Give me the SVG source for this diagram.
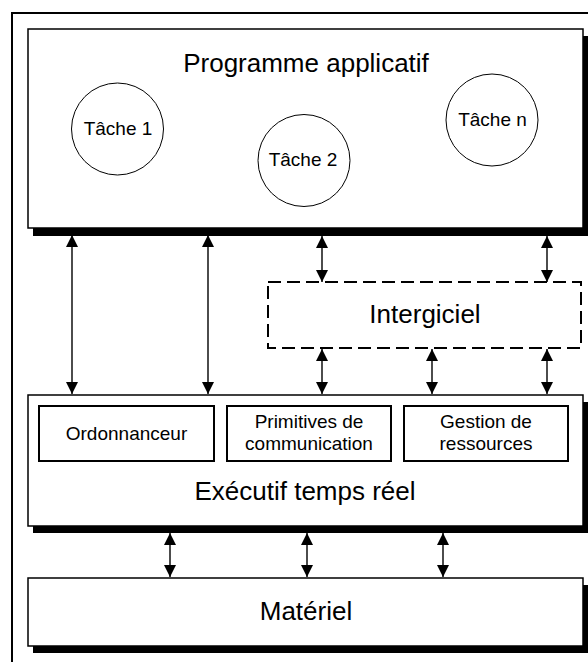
<svg xmlns="http://www.w3.org/2000/svg" width="588" height="662" viewBox="0 0 588 662">
<defs>
<marker id="ah" viewBox="0 0 12 12" refX="12" refY="6" markerWidth="12" markerHeight="12" markerUnits="userSpaceOnUse" orient="auto-start-reverse">
<path d="M0,0 L12,6 L0,12 z" fill="#000"/>
</marker>
<style>
.frame{fill:none;stroke:#000;stroke-width:2}
.box{fill:#fff;stroke:#000;stroke-width:1.5}
.shadow{fill:#000}
.inner{fill:#fff;stroke:#000;stroke-width:2}
.dash{fill:none;stroke:#000;stroke-width:2;stroke-dasharray:13 6}
.task{fill:#fff;stroke:#000;stroke-width:1}
.big{font-family:"Liberation Sans",Arial,sans-serif;font-size:26px;text-anchor:middle;fill:#000}
.small{font-family:"Liberation Sans",Arial,sans-serif;font-size:19px;text-anchor:middle;fill:#000}
.conn{stroke:#000;stroke-width:1.4;fill:none;marker-start:url(#ah);marker-end:url(#ah)}
</style>
</defs>
<rect width="588" height="662" fill="#fff"/>
<rect class="frame" x="12" y="13" width="600" height="700"/>

<g id="programme">
<rect class="shadow" x="33" y="36" width="560" height="200"/>
<rect class="box" x="28" y="29" width="555" height="199"/>
<text class="big" x="306" y="72">Programme applicatif</text>
</g>
<g id="tache1">
<circle class="task" cx="117.5" cy="129" r="46"/>
<text class="small" x="118" y="135">Tâche 1</text>
</g>
<g id="tache2">
<circle class="task" cx="304" cy="160.5" r="46"/>
<text class="small" x="303" y="166">Tâche 2</text>
</g>
<g id="tachen">
<circle class="task" cx="492" cy="120" r="46"/>
<text class="small" x="492.5" y="126">Tâche n</text>
</g>

<g id="intergiciel">
<rect class="dash" x="268" y="282" width="313" height="66"/>
<text class="big" x="425" y="323">Intergiciel</text>
</g>

<g id="executif">
<rect class="shadow" x="33" y="402" width="560" height="131"/>
<rect class="box" x="28" y="395" width="555" height="131"/>
<text class="big" x="305" y="500">Exécutif temps réel</text>
</g>
<g id="ordonnanceur">
<rect class="inner" x="39" y="406" width="175" height="55"/>
<text class="small" x="126.5" y="440">Ordonnanceur</text>
</g>
<g id="primitives">
<rect class="inner" x="227" y="406" width="164" height="55"/>
<text class="small" x="309" y="428">Primitives de</text>
<text class="small" x="309" y="450">communication</text>
</g>
<g id="gestion">
<rect class="inner" x="404" y="406" width="164" height="55"/>
<text class="small" x="486" y="428">Gestion de</text>
<text class="small" x="486" y="450">ressources</text>
</g>

<g id="materiel">
<rect class="shadow" x="33" y="585" width="560" height="68"/>
<rect class="box" x="28" y="578" width="555" height="68"/>
<text class="big" x="306" y="620">Matériel</text>
</g>

<g id="connectors">
<line class="conn" x1="72" y1="235" x2="72" y2="394"/>
<line class="conn" x1="208" y1="235" x2="208" y2="394"/>
<line class="conn" x1="322" y1="236" x2="322" y2="282"/>
<line class="conn" x1="547" y1="236" x2="547" y2="282"/>
<line class="conn" x1="322" y1="349" x2="322" y2="394"/>
<line class="conn" x1="432" y1="349" x2="432" y2="394"/>
<line class="conn" x1="547" y1="349" x2="547" y2="394"/>
<line class="conn" x1="170" y1="533" x2="170" y2="577"/>
<line class="conn" x1="307" y1="533" x2="307" y2="577"/>
<line class="conn" x1="443" y1="533" x2="443" y2="577"/>
</g>
</svg>
